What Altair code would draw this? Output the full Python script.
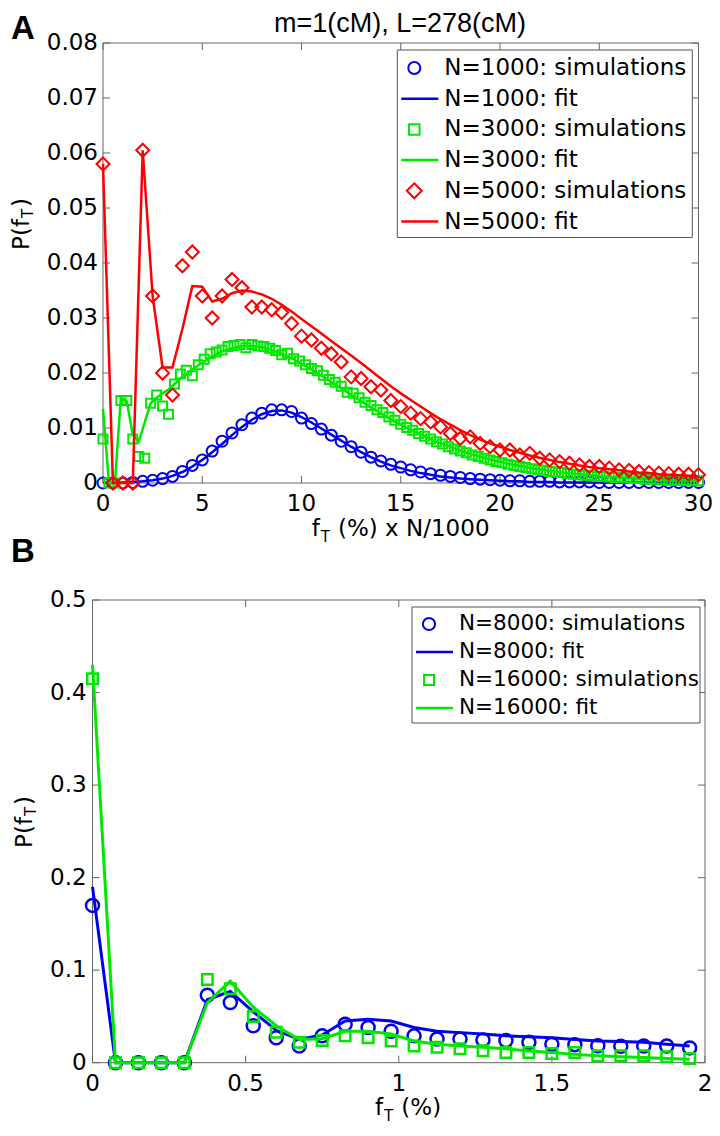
import altair as alt
import pandas as pd

FONT = "DejaVu Sans"
TFONT = "Liberation Sans"
LFONT = "Liberation Sans Narrow, Liberation Sans"
BLUE = "#0000ee"
GREEN = "#00e800"
RED = "#ff0000"
AXC = "#666666"
FS = 23

# ---------------- Panel A data ----------------
x_n1000 = [round(0.5 * k, 2) for k in range(61)]
x_n3000 = [round(0.3 * k, 2) for k in range(101)]
x_n5000 = [round(0.5 * k, 2) for k in range(61)]

sim_n1000 = [0, 0, 0, 0.0001, 0.0003, 0.0005, 0.0008, 0.0012, 0.0021, 0.0032,
             0.0042, 0.0058, 0.0076, 0.0091, 0.0106, 0.0118, 0.0127, 0.0133, 0.0133, 0.013,
             0.0118, 0.0108, 0.0098, 0.0087, 0.0076, 0.0066, 0.0056, 0.0047, 0.004, 0.0034,
             0.0029, 0.0024, 0.002, 0.0017, 0.0014, 0.0012, 0.001, 0.0008, 0.0007, 0.0006,
             0.0005, 0.0004, 0.0004, 0.0003, 0.0003, 0.0003, 0.0002, 0.0002, 0.0002, 0.0002,
             0.0001, 0.0001, 0.0001, 0.0001, 0.0001, 0.0001, 0.0001, 0.0001, 0.0001, 0.0001, 0.0001]
fit_n1000 = [0, 0, 0.0001, 0.0002, 0.0003, 0.0005, 0.0008, 0.0013, 0.002, 0.003,
             0.0042, 0.0056, 0.0071, 0.0087, 0.0102, 0.0115, 0.0125, 0.0131, 0.0132, 0.0128,
             0.012, 0.011, 0.0099, 0.0088, 0.0077, 0.0066, 0.0056, 0.0047, 0.0039, 0.0032,
             0.0027, 0.0022, 0.0018, 0.0015, 0.0012, 0.001, 0.0008, 0.0007, 0.0006, 0.0005,
             0.0004, 0.0003, 0.0003, 0.0002, 0.0002, 0.0002, 0.0001, 0.0001, 0.0001, 0.0001,
             0.0001, 0.0001, 0.0001, 0.0001, 0.0001, 0.0001, 0.0001, 0.0001, 0.0001, 0.0001, 0.0001]

sim_n3000 = [0.008, 0, 0, 0.015, 0.015, 0.008, 0.0048, 0.0045, 0.0145, 0.016,
             0.014, 0.0125, 0.018, 0.0198, 0.0205, 0.0195, 0.0215, 0.0225, 0.0235, 0.0238,
             0.0242, 0.0248, 0.025, 0.0252, 0.0246, 0.0252, 0.0249, 0.0248, 0.0245, 0.0241,
             0.0233, 0.0236, 0.0226, 0.0222, 0.0215, 0.0208, 0.0204, 0.0196, 0.0188, 0.0183,
             0.0176, 0.0165, 0.0163, 0.0155, 0.0147, 0.0141, 0.0133, 0.0128, 0.012, 0.0114,
             0.0107, 0.0101, 0.0096, 0.009, 0.0085, 0.008, 0.0075, 0.0071, 0.0066, 0.0062,
             0.0058, 0.0055, 0.0051, 0.0048, 0.0045, 0.0042, 0.0039, 0.0037, 0.0034, 0.0032,
             0.003, 0.0028, 0.0026, 0.0024, 0.0023, 0.0021, 0.002, 0.0019, 0.0017, 0.0016,
             0.0015, 0.0014, 0.0013, 0.0012, 0.0012, 0.0011, 0.001, 0.001, 0.0009, 0.0008,
             0.0008, 0.0007, 0.0007, 0.0006, 0.0006, 0.0005, 0.0005, 0.0005, 0.0004, 0.0004, 0.0004]
fit_n3000 = [0.0135, 0, 0, 0.0155, 0.0148, 0.0088, 0.0075, 0.011, 0.0145, 0.0155,
             0.0163, 0.017, 0.018, 0.019, 0.0198, 0.0206, 0.0214, 0.0221, 0.0228, 0.0234,
             0.0239, 0.0243, 0.0246, 0.0248, 0.0249, 0.0249, 0.0248, 0.0246, 0.0243, 0.0239,
             0.0235, 0.023, 0.0225, 0.0219, 0.0213, 0.0207, 0.02, 0.0193, 0.0186, 0.0179,
             0.0172, 0.0165, 0.0158, 0.0151, 0.0144, 0.0137, 0.0131, 0.0124, 0.0118, 0.0112,
             0.0106, 0.01, 0.0095, 0.009, 0.0085, 0.008, 0.0075, 0.0071, 0.0067, 0.0063,
             0.0059, 0.0055, 0.0052, 0.0049, 0.0046, 0.0043, 0.004, 0.0038, 0.0035, 0.0033,
             0.0031, 0.0029, 0.0027, 0.0025, 0.0024, 0.0022, 0.0021, 0.0019, 0.0018, 0.0017,
             0.0016, 0.0015, 0.0014, 0.0013, 0.0012, 0.0011, 0.0011, 0.001, 0.0009, 0.0009,
             0.0008, 0.0008, 0.0007, 0.0007, 0.0006, 0.0006, 0.0005, 0.0005, 0.0005, 0.0004, 0.0004]

sim_n5000 = [0.058, 0, 0, 0, 0.0605, 0.034, 0.020, 0.016, 0.0395, 0.042,
             0.034, 0.030, 0.034, 0.037, 0.0355, 0.032, 0.032, 0.0315, 0.031, 0.029,
             0.0267, 0.026, 0.0245, 0.0235, 0.022, 0.0193, 0.019, 0.0175, 0.0169, 0.015,
             0.0139, 0.0127, 0.0117, 0.0111, 0.0102, 0.009, 0.0081, 0.0084, 0.0072, 0.0066,
             0.006, 0.006, 0.0051, 0.0054, 0.0045, 0.0042, 0.0039, 0.0036, 0.0033, 0.003,
             0.003, 0.0027, 0.0024, 0.0023, 0.0021, 0.0019, 0.0018, 0.0017, 0.0016, 0.0016, 0.0015]
fit_n5000 = [0.058, 0, 0, 0, 0.0605, 0.034, 0.021, 0.021, 0.028, 0.0358,
             0.0357, 0.033, 0.0335, 0.0345, 0.035, 0.0348, 0.0343, 0.0335, 0.0324, 0.0312,
             0.0298, 0.0285, 0.0272, 0.0258, 0.0245, 0.0232, 0.0218, 0.0204, 0.019, 0.0176,
             0.0163, 0.0151, 0.0139, 0.0127, 0.0116, 0.0106, 0.0096, 0.0087, 0.0079, 0.0072,
             0.0066, 0.006, 0.0055, 0.005, 0.0046, 0.0042, 0.0038, 0.0035, 0.0032, 0.0029,
             0.0027, 0.0025, 0.0023, 0.0021, 0.0019, 0.0018, 0.0016, 0.0015, 0.0014, 0.0013, 0.0012]

labels_A = ["N=1000: simulations", "N=1000: fit", "N=3000: simulations",
            "N=3000: fit", "N=5000: simulations", "N=5000: fit"]
xticks_A = [0, 5, 10, 15, 20, 25, 30]
yticks_A = [0, 0.01, 0.02, 0.03, 0.04, 0.05, 0.06, 0.07, 0.08]

# ---------------- Panel B data ----------------
x_B = [round(0.075 * k, 3) for k in range(27)]
sim_n8000 = [0.170, 0, 0, 0, 0, 0.073, 0.065, 0.040, 0.027, 0.018,
             0.029, 0.0415, 0.038, 0.034, 0.029, 0.0256, 0.0256, 0.0245, 0.024, 0.022,
             0.020, 0.0195, 0.0184, 0.0177, 0.018, 0.018, 0.016]
fit_n8000 = [0.190, 0, 0, 0, 0, 0.068, 0.077, 0.055, 0.035, 0.025,
             0.030, 0.045, 0.047, 0.045, 0.038, 0.034, 0.0325, 0.031, 0.029, 0.028,
             0.027, 0.025, 0.0235, 0.023, 0.022, 0.020, 0.018]
sim_n16000 = [0.415, 0, 0, 0, 0, 0.090, 0.080, 0.050, 0.033, 0.022,
              0.024, 0.029, 0.027, 0.0235, 0.018, 0.0166, 0.015, 0.013, 0.011, 0.011,
              0.010, 0.011, 0.0075, 0.0075, 0.0075, 0.0065, 0.0045]
fit_n16000 = [0.430, 0, 0, 0, 0, 0.065, 0.088, 0.060, 0.040, 0.025,
              0.026, 0.034, 0.034, 0.031, 0.0235, 0.020, 0.018, 0.0166, 0.015, 0.0126,
              0.011, 0.009, 0.0075, 0.0065, 0.0055, 0.0045, 0.0036]

labels_B = ["N=8000: simulations", "N=8000: fit", "N=16000: simulations", "N=16000: fit"]
xticks_B = [0, 0.5, 1, 1.5, 2]
yticks_B = [0, 0.1, 0.2, 0.3, 0.4, 0.5]

ONE = pd.DataFrame({"a": [0]})
# plot frames on the canvas (left, right, top, bottom); the canvas starts at the page margin
FRAME_A = (95, 690.5, 35, 475)
FRAME_B = (84.5, 697, 592, 1054.7)
TICK = 7


def frame(xs, ys):
    return pd.DataFrame({"x": xs, "y": ys})


def text(t, x, y, size=FS, font=FONT, align="left", baseline="alphabetic",
         angle=0, weight="normal"):
    return alt.Chart(pd.DataFrame({"t": [t]})).mark_text(
        font=font, fontSize=size, align=align, baseline=baseline, angle=angle,
        fontWeight=weight, color="black"
    ).encode(x=alt.value(x), y=alt.value(y), text="t:N")


def legend(labels, styles, x_text, y_top, row_h, width, fs, first=18, last=16):
    out = []
    n = len(labels)
    y_bot = y_top + first + row_h * (n - 1) + last
    out.append(alt.Chart(ONE).mark_rect(fill="white", stroke="#555555", strokeWidth=1).encode(
        x=alt.value(x_text - 47), x2=alt.value(x_text + width),
        y=alt.value(y_top), y2=alt.value(y_bot)))
    for i, (lab, st) in enumerate(zip(labels, styles)):
        yy = y_top + first + row_h * i
        kind, col, shp, sz, lsz = st
        if kind == "sim":
            out.append(alt.Chart(ONE).mark_point(
                shape=shp, size=lsz, color=col, filled=False, strokeWidth=2, opacity=1
            ).encode(x=alt.value(x_text - 30), y=alt.value(yy)))
        else:
            out.append(alt.Chart(ONE).mark_rule(color=col, strokeWidth=2.5).encode(
                x=alt.value(x_text - 43), x2=alt.value(x_text - 6), y=alt.value(yy)))
        out.append(text(lab, x_text, yy, size=fs, baseline="middle"))
    return out


def panel(fr, xdom, ydom, xticks, yticks, series, lw, msw, xlab_y, ylab_x):
    L, R, T, B = fr
    sx = alt.Scale(domain=xdom, range=[L, R], nice=False, zero=False)
    sy = alt.Scale(domain=ydom, range=[B, T], nice=False, zero=False)
    X = alt.X("x:Q", scale=sx, axis=None)
    Y = alt.Y("y:Q", scale=sy, axis=None)
    tx = pd.DataFrame({"x": xticks, "lab": [f"{v:g}" for v in xticks]})
    ty = pd.DataFrame({"y": yticks, "lab": [f"{v:g}" for v in yticks]})
    box = pd.DataFrame({"x": [xdom[0]], "x2": [xdom[1]], "y": [ydom[0]], "y2": [ydom[1]]})
    layers = [
        alt.Chart(box).mark_rect(fillOpacity=0, stroke=AXC, strokeWidth=1).encode(
            x=X, x2="x2:Q", y=Y, y2="y2:Q"),
        alt.Chart(tx).mark_rule(color=AXC, strokeWidth=1).encode(
            x=X, y=alt.value(B), y2=alt.value(B - TICK)),
        alt.Chart(tx).mark_rule(color=AXC, strokeWidth=1).encode(
            x=X, y=alt.value(T), y2=alt.value(T + TICK)),
        alt.Chart(ty).mark_rule(color=AXC, strokeWidth=1).encode(
            y=Y, x=alt.value(L), x2=alt.value(L + TICK)),
        alt.Chart(ty).mark_rule(color=AXC, strokeWidth=1).encode(
            y=Y, x=alt.value(R), x2=alt.value(R - TICK)),
        alt.Chart(tx).mark_text(font=FONT, fontSize=FS, align="center", baseline="middle",
                                color="black").encode(x=X, y=alt.value(xlab_y), text="lab:N"),
        alt.Chart(ty).mark_text(font=FONT, fontSize=FS, align="right", baseline="middle",
                                color="black").encode(y=Y, x=alt.value(ylab_x), text="lab:N"),
    ]
    for (kind, col, shp, sz, lsz), df in series:
        if kind == "sim":
            layers.append(alt.Chart(df).mark_point(
                shape=shp, size=sz, color=col, filled=False, strokeWidth=msw, opacity=1
            ).encode(x=X, y=Y))
        else:
            layers.append(alt.Chart(df).mark_line(color=col, strokeWidth=lw).encode(x=X, y=Y))
    return layers


# ---------------- Panel A ----------------
styles_A = [("sim", BLUE, "circle", 121, 144), ("fit", BLUE, None, None, None),
            ("sim", GREEN, "square", 81, 110), ("fit", GREEN, None, None, None),
            ("sim", RED, "diamond", 169, 225), ("fit", RED, None, None, None)]
layers_A = panel(
    FRAME_A, [0, 30], [0, 0.08], xticks_A, yticks_A,
    list(zip(styles_A, [frame(x_n1000, sim_n1000), frame(x_n1000, fit_n1000),
                        frame(x_n3000, sim_n3000), frame(x_n3000, fit_n3000),
                        frame(x_n5000, sim_n5000), frame(x_n5000, fit_n5000)])),
    2.5, 2, 496, 90)
layers_A += legend(labels_A, styles_A, 436.3, 42, 30.7, 248, FS)
layers_A += [
    text("A", 3, 31, size=33, font=LFONT, weight="bold"),
    text("m=1(cM), L=278(cM)", 392, 24, size=27, font=TFONT, align="center"),
    # y title P(f_T)
    text("P(f", 14, 211, align="right", baseline="middle", angle=270),
    text("T", 20, 210, size=15, align="left", baseline="middle", angle=270),
    text(")", 14, 199, align="left", baseline="middle", angle=270),
    # x title f_T (%) x N/1000
    text("f", 303.7, 527.5),
    text("T", 312.8, 533.5, size=15),
    text("(%) x N/1000", 330, 527.5),
]
panel_A = alt.layer(*layers_A)

# ---------------- Panel B ----------------
styles_B = [("sim", BLUE, "circle", 169, 150), ("fit", BLUE, None, None, None),
            ("sim", GREEN, "square", 110, 100), ("fit", GREEN, None, None, None)]
layers_B = panel(
    FRAME_B, [0, 2], [0, 0.5], xticks_B, yticks_B,
    list(zip(styles_B, [frame(x_B, sim_n8000), frame(x_B, fit_n8000),
                        frame(x_B, sim_n16000), frame(x_B, fit_n16000)])),
    3, 2.5, 1076, 78.7)
layers_B += legend(labels_B, styles_B, 451, 599, 28, 241, 21.5, first=17, last=15)
layers_B += [
    text("B", 3, 554, size=33, font=LFONT, weight="bold"),
    text("P(f", 17, 809, align="right", baseline="middle", angle=270),
    text("T", 23, 808, size=15, align="left", baseline="middle", angle=270),
    text(")", 17, 797, align="left", baseline="middle", angle=270),
    text("f", 367, 1107),
    text("T", 376.1, 1113, size=15),
    text("(%)", 393.3, 1107),
]
panel_B = alt.layer(*layers_B)

chart = alt.layer(panel_A, panel_B).resolve_scale(
    x="independent", y="independent"
).properties(
    width=704, height=1116, padding=0,
    autosize=alt.AutoSizeParams(type="none")
).configure_view(stroke=None)

chart.save("out.html", embed_options={"renderer": "svg", "actions": False})
